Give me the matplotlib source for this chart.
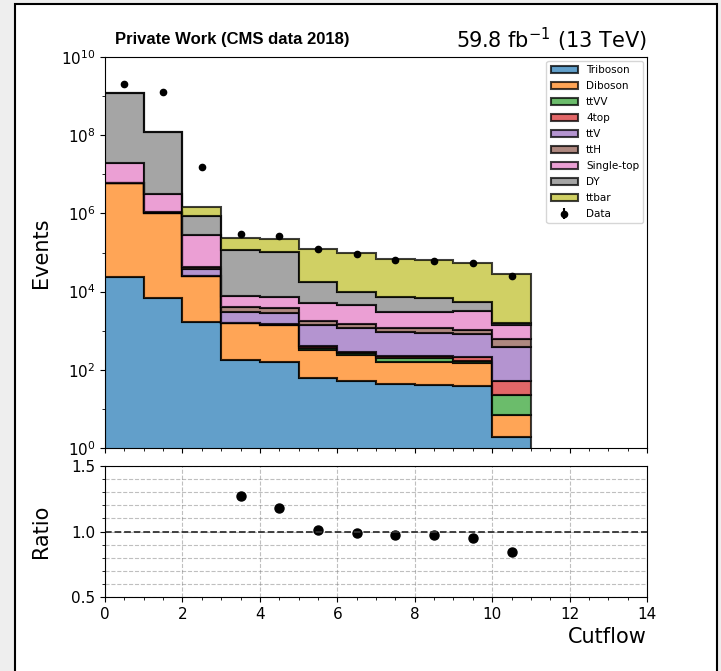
import numpy as np
import matplotlib
matplotlib.use('Agg')
import matplotlib.pyplot as plt
from matplotlib.patches import Rectangle
from matplotlib.colors import to_rgba
from matplotlib.ticker import MultipleLocator, LogLocator, NullFormatter

# cutflow bins 0..10
edges = np.arange(12)
samples = ['Triboson', 'Diboson', 'ttVV', '4top', 'ttV', 'ttH', 'Single-top', 'DY', 'ttbar']
colors = ['tab:blue', 'tab:orange', 'tab:green', 'tab:red', 'tab:purple',
          'tab:brown', 'tab:pink', 'tab:gray', 'tab:olive']

triboson = [2.4e4, 6.7e3, 1.7e3, 178, 161, 60, 53, 43, 41, 39, 1.8]
diboson = [5.9e6, 1.0e6, 2.4e4, 1.37e3, 1.24e3, 262, 187, 118, 120, 108, 5.2]
ttvv = [50, 20, 30, 30, 30, 45, 25, 35, 35, 20, 15]
fourtop = [5, 2, 3, 10, 10, 33, 25, 29, 30, 41, 30]
ttv = [3e3, 6e4, 1.2e4, 1.5e3, 1.36e3, 1.0e3, 860, 715, 665, 620, 338]
tth = [1e3, 4e4, 5e3, 900, 900, 400, 330, 260, 260, 220, 210]
singletop = [1.4e7, 2.1e6, 2.4e5, 3.7e3, 3.7e3, 3.4e3, 3.0e3, 1.8e3, 1.85e3, 2.05e3, 800]
dy = [1.21e9, 1.15e8, 5.9e5, 1.08e5, 9.76e4, 1.28e4, 5.5e3, 4.4e3, 3.7e3, 2.4e3, 200]
ttbar = [5e6, 3e6, 5.8e5, 1.14e5, 1.15e5, 1.02e5, 9.0e4, 5.96e4, 5.73e4, 4.75e4, 2.74e4]

data = [2.0e9, 1.25e9, 1.56e7, 2.97e5, 2.6e5, 1.23e5, 9.3e4, 6.4e4, 6.0e4, 5.5e4, 2.5e4]
ratio = [1.6, 10.6, 10.8, 1.27, 1.18, 1.01, 0.99, 0.97, 0.97, 0.95, 0.84]

stack = [triboson, diboson, ttvv, fourtop, ttv, tth, singletop, dy, ttbar]

fig = plt.figure(figsize=(7.21, 6.71), dpi=100)
fig.patch.set_facecolor('#eeeeee')
fig.add_artist(Rectangle((15/721, -0.1), 702/721, 1.1 - 4/671, transform=fig.transFigure,
                         facecolor='white', edgecolor='black', lw=1.5, zorder=0))

ax = fig.add_axes([105/721, 1 - 448/671, 542/721, 391/671])
rax = fig.add_axes([105/721, 1 - 597/671, 542/721, 131/671], sharex=ax)

ax.set_yscale('log')
centers = edges[:-1] + 0.5
base = np.full(11, 1e-1)
for vals, lab, c in zip(stack, samples, colors):
    top = base + np.array(vals, dtype=float)
    ax.stairs(top, edges, baseline=base, fill=True, facecolor=to_rgba(c, 0.7),
              edgecolor=(0, 0, 0, 0.75), linewidth=1.5, label=lab)
    base = top

ax.errorbar(centers, data, yerr=np.sqrt(data), fmt='o', color='black', markersize=4.5,
            label='Data')

ax.set_xlim(0, 14)
ax.set_ylim(1, 1e10)
ax.set_yticks([1, 1e2, 1e4, 1e6, 1e8, 1e10])
ax.yaxis.set_minor_formatter(NullFormatter())
ax.yaxis.set_minor_locator(LogLocator(base=10, subs=(1.0,), numticks=20))
ax.xaxis.set_minor_locator(MultipleLocator(0.5))
ax.tick_params(labelbottom=False, labelsize=11)
ax.set_ylabel('Events', fontsize=15)
ax.yaxis.set_label_coords(-0.1, 0.5)
ax.legend(loc='upper right', fontsize=7.5, labelspacing=0.58, handlelength=2.6,
          borderaxespad=0.35)

ax.text(0.018, 1.025, 'Private Work (CMS data 2018)', transform=ax.transAxes,
        fontsize=12, fontweight='bold', family='Liberation Sans', ha='left', va='bottom')
ax.text(1.0, 1.008, r'59.8 fb$^{-1}$ (13 TeV)', transform=ax.transAxes,
        fontsize=15, ha='right', va='bottom')

rax.plot(centers, ratio, 'o', color='black', markersize=6.5)
rax.axhline(1.0, color='#333333', ls='--', lw=1.3)
rax.set_ylim(0.5, 1.5)
rax.set_yticks([0.5, 1.0, 1.5])
rax.yaxis.set_minor_locator(MultipleLocator(0.1))
rax.xaxis.set_minor_locator(MultipleLocator(0.5))
rax.set_xticks(np.arange(0, 15, 2))
rax.grid(which='major', ls='--', color='grey', lw=0.8, alpha=0.5)
rax.yaxis.grid(which='minor', ls='--', color='grey', lw=0.8, alpha=0.5)
rax.tick_params(labelsize=11)
rax.set_ylabel('Ratio', fontsize=15)
rax.yaxis.set_label_coords(-0.1, 0.5)
rax.set_xlabel('Cutflow', fontsize=15, ha='right')
rax.xaxis.set_label_coords(1.0, -0.23)
rax.xaxis.label.set_va('top')

fig.savefig('out.png', dpi=100, facecolor=fig.get_facecolor())
